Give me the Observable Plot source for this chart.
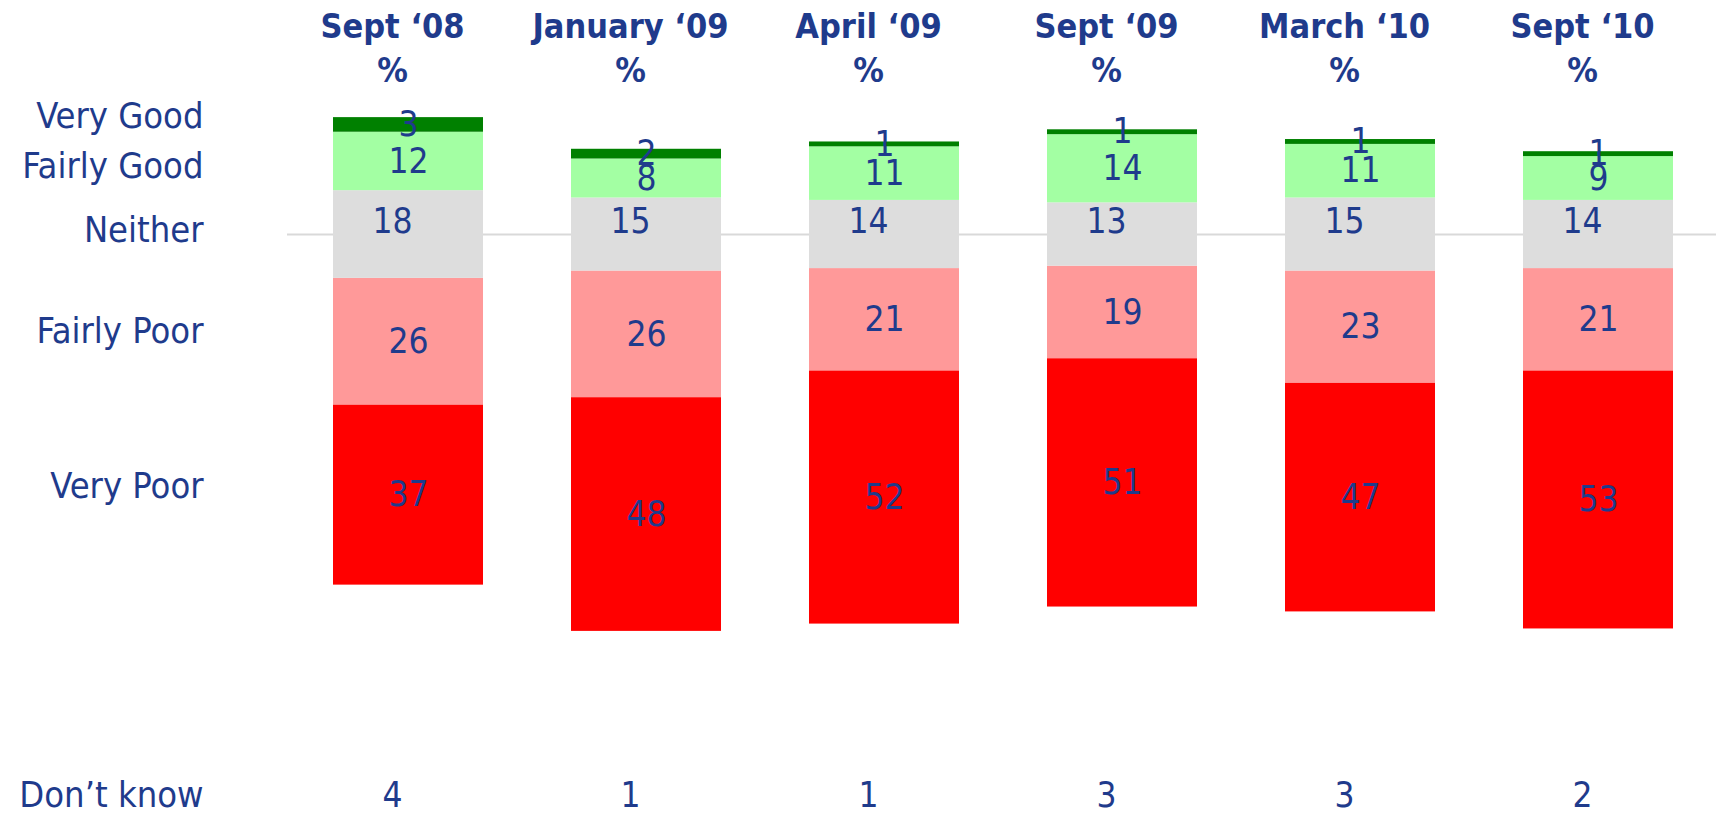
<!DOCTYPE html>
<html>
<head>
<meta charset="utf-8">
<script src="https://cdn.jsdelivr.net/npm/d3@7"></script>
<script src="https://cdn.jsdelivr.net/npm/@observablehq/plot@0.6"></script>
<style>
  html, body { margin: 0; padding: 0; background: #ffffff; }
  #chart svg { display: block; }
  #chart svg text { font-stretch: condensed; }
</style>
</head>
<body>
<div id="chart"></div>
<script>
// ---- Data ----
const periods = ["Sept \u201808", "January \u201809", "April \u201809", "Sept \u201809", "March \u201810", "Sept \u201810"];
const categories = ["Very Good", "Fairly Good", "Neither", "Fairly Poor", "Very Poor"];
const veryGood   = [3, 2, 1, 1, 1, 1];
const fairlyGood = [12, 8, 11, 14, 11, 9];
const neither    = [18, 15, 14, 13, 15, 14];
const fairlyPoor = [26, 26, 21, 19, 23, 21];
const veryPoor   = [37, 48, 52, 51, 47, 53];
const dontKnow   = [4, 1, 1, 3, 3, 2];
const dontKnowLabel = "Don\u2019t know";
const colors = ["#008000", "#a3ffa3", "#dddddd", "#ff9999", "#ff0000"];
const textColor = "#1f3b8c";
// small vertical nudges (px) of the left-hand row labels
const labelNudge = {"Very Good": -8, "Fairly Good": 5, "Neither": -4, "Fairly Poor": -10, "Very Poor": -9};

// ---- Diverging stack centred on the middle of "Neither" ----
const series = [veryGood, fairlyGood, neither, fairlyPoor, veryPoor];
const rows = [];
periods.forEach((p, i) => {
  let base = -(neither[i] / 2 + fairlyPoor[i] + veryPoor[i]);
  for (let c = categories.length - 1; c >= 0; c--) {
    const v = series[c][i];
    rows.push({period: p, category: categories[c], value: v, y1: base, y2: base + v, mid: base + v / 2});
    base += v;
  }
});
const firstRows = rows.filter(d => d.period === periods[0]);
const dk = periods.map((p, i) => ({period: p, value: dontKnow[i]}));

const font = '"DejaVu Sans Condensed", "DejaVu Sans", sans-serif';
const mL = 307.6, mR = 18.2;

const chart = Plot.plot({
  width: 1716,
  height: 814,
  marginTop: 0,
  marginBottom: 0,
  marginLeft: mL,
  marginRight: mR,
  style: {fontFamily: font, background: "#ffffff"},
  x: {type: "band", domain: periods, paddingInner: 0.371, paddingOuter: 0.1, axis: null},
  y: {domain: [-119.1, 48.05], axis: null},
  color: {domain: categories, range: colors},
  marks: [
    Plot.ruleY([0], {stroke: "#d9d9d9", strokeWidth: 2, insetLeft: -(mL - 287), insetRight: -mR}),
    Plot.barY(rows, {x: "period", y1: "y1", y2: "y2", fill: "category"}),
    Plot.text(rows.filter(d => d.category !== "Neither"), {
      x: "period", y: "mid", text: d => String(d.value), fill: textColor, fontSize: 35
    }),
    Plot.text(rows.filter(d => d.category === "Neither"), {
      x: "period", y: "mid", text: d => String(d.value), fill: textColor, fontSize: 35, dx: -16, dy: -13
    }),
    // column headers
    Plot.text(periods, {x: d => d, text: d => d, frameAnchor: "top", lineAnchor: "middle", dy: 27, dx: -16,
      fill: textColor, fontSize: 34, fontWeight: "bold"}),
    Plot.text(periods, {x: d => d, text: () => "%", frameAnchor: "top", lineAnchor: "middle", dy: 71, dx: -16,
      fill: textColor, fontSize: 34, fontWeight: "bold"}),
    // row labels on the left
    ...categories.map(cat => Plot.text(firstRows.filter(d => d.category === cat), {
      y: "mid", text: "category", frameAnchor: "left", dx: -(mL - 203), dy: labelNudge[cat],
      textAnchor: "end", fill: textColor, fontSize: 36
    })),
    // Don't know row
    Plot.text([dontKnowLabel], {text: d => d, frameAnchor: "bottom-left", lineAnchor: "middle",
      dx: -(mL - 203), dy: -19, textAnchor: "end", fill: textColor, fontSize: 36}),
    Plot.text(dk, {x: "period", text: d => String(d.value), frameAnchor: "bottom", lineAnchor: "middle",
      dy: -19, dx: -16, fill: textColor, fontSize: 35})
  ]
});
document.getElementById("chart").appendChild(chart);
</script>
</body>
</html>
